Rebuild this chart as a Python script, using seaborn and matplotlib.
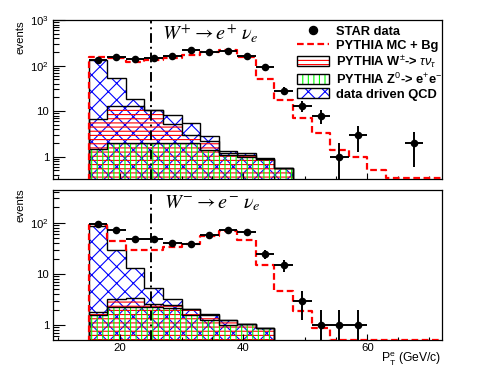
import numpy as np
import matplotlib
matplotlib.use("Agg")
import matplotlib.pyplot as plt
from matplotlib.lines import Line2D
from matplotlib.patches import Patch
from matplotlib.legend_handler import HandlerTuple
from matplotlib.ticker import FixedLocator, FuncFormatter, LogLocator, NullFormatter, MultipleLocator
import seaborn as sns

# ── 1. DATA ─────────────────────────────────────────────────
bin_edges = [15, 18, 21, 24, 27, 30, 33, 36, 39, 42, 45, 48, 51, 54, 57, 60, 63, 66, 69, 72]
pt_cut = 25

# W+ panel
wp_data = [134, 154, 139, 147, 166, 222, 200, 214, 160, 95, 28, 13, 8, 1, 3, 0, 0, 2]
wp_mc = [158, 146, 120, 136, 148, 175, 199, 223, 158, 50.6, 17.3, 7.1, 3.4, 1.41, 0.97, 0.51, 0.34, 0.34, 0.34]
wp_zee = [1.5, 2.0, 2.0, 2.0, 2.0, 2.0, 1.4, 1.1, 1.0, 0.9, 0.58]
wp_tau = [5.3, 11.0, 11.0, 8.5, 3.2, 1.0, 0.8, 0.1, 0.1, 0.01, 0.0]
wp_qcd = [128, 40, 6.0, 0.2, 3.1, 2.5, 0.6, 0.16, 0.09, 0.01, 0.0]

# W- panel
wm_data = [93, 72, 48, 48, 40, 38, 57, 72, 67, 25, 15, 3, 1, 1, 1, 0, 0, 0]
wm_mc = [90, 44, 30, 30, 33, 38, 55, 70, 46, 14.9, 4.6, 1.9, 0.89, 0.52, 0.52, 0.52, 0.52, 0.52, 0.52]
wm_zee = [1.6, 2.3, 2.3, 2.3, 2.2, 1.6, 1.25, 1.0, 1.05, 0.86]
wm_tau = [0.2, 1.0, 1.1, 0.27, 0.26, 0.5, 0.35, 0.25, 0.0, 0.0]
wm_qcd = [86.2, 26.7, 9.4, 2.63, 0.74, 0.0, 0.04, 0.02, 0.0, 0.0]

legend_labels = [
    "STAR data",
    "PYTHIA MC + Bg",
    r"PYTHIA W$^{\pm}$-> $\tau\nu_{\tau}$",
    r"PYTHIA Z$^{0}$-> e$^{+}$e$^{-}$",
    "data driven QCD",
]

# ── 2. STYLE ─────────────────────────────────────────────────
plt.rcParams['font.family'] = ['Liberation Sans', 'DejaVu Sans']
plt.rcParams['mathtext.fontset'] = 'custom'
plt.rcParams['mathtext.rm'] = 'Liberation Sans'
plt.rcParams['mathtext.it'] = 'Liberation Sans:italic'
plt.rcParams['mathtext.bf'] = 'Liberation Sans:bold'
plt.rcParams['hatch.linewidth'] = 0.8

GREEN, RED, BLUE = "#00ff00", "#ff0000", "#0000ff"
HATCH_QCD, HATCH_TAU, HATCH_ZEE = 'xx', '----', '|||'
FLOOR = 1e-3
MC_DASH = (0, (3, 1.6))

fig = plt.figure(figsize=(4.96, 3.72), dpi=100)
ax_top = fig.add_axes([0.1062, 0.518, 0.7843, 0.428])
ax_bot = fig.add_axes([0.1062, 0.086, 0.7843, 0.403])

edges = np.array(bin_edges, dtype=float)
centers = 0.5 * (edges[:-1] + edges[1:])
half_w = 0.5 * (edges[1] - edges[0])

ylabels = {1: "1", 10: "10", 100: r"$10^{2}$", 1000: r"$10^{3}$"}


def draw_panel(ax, data, mc, zee, tau, qcd, ylim, majors):
    ax.set_yscale('log')
    nb = len(zee)
    e = edges[:nb + 1]
    lvl_z = np.array(zee)
    lvl_tz = lvl_z + np.array(tau)
    lvl_all = lvl_tz + np.array(qcd)

    # hatched stacked background (each level drawn from zero, ROOT style)
    for lvl, col, h in [(lvl_all, BLUE, HATCH_QCD), (lvl_tz, RED, HATCH_TAU), (lvl_z, GREEN, HATCH_ZEE)]:
        ax.stairs(lvl, e, baseline=FLOOR, fill=True, facecolor='none',
                  edgecolor=col, hatch=h, linewidth=0, zorder=1)
    for lvl in (lvl_all, lvl_tz, lvl_z):
        ax.stairs(lvl, e, baseline=FLOOR, fill=False, color='k', linewidth=1.0, zorder=1.5)

    # MC + background, dashed step line
    mc_x = np.concatenate([[edges[0]], edges])
    mc_y = np.concatenate([[FLOOR], mc, [mc[-1]]])
    sns.lineplot(x=mc_x, y=mc_y, estimator=None, sort=False, drawstyle='steps-post',
                 color=RED, linewidth=1.6, linestyle=MC_DASH, ax=ax, zorder=3)

    ax.axvline(pt_cut, color='k', linewidth=1.4, linestyle=(0, (5, 2, 1, 2)), zorder=2.8)

    # data points with Poisson errors
    d = np.array(data, dtype=float)
    c = centers[:len(d)]
    m = d > 0
    err = np.sqrt(d[m])
    ax.errorbar(c[m], d[m], xerr=half_w, yerr=[np.minimum(err, d[m] * 0.999), err],
                fmt='none', ecolor='k', elinewidth=1.4, capsize=0, zorder=4)
    sns.scatterplot(x=c[m], y=d[m], color='k', s=30, linewidth=0, ax=ax,
                    zorder=5, legend=False)

    ax.set_xlim(9.2, 72)
    ax.set_ylim(*ylim)
    ax.xaxis.set_major_locator(FixedLocator([20, 40, 60]))
    ax.xaxis.set_minor_locator(MultipleLocator(5))
    ax.yaxis.set_major_locator(FixedLocator(majors))
    ax.yaxis.set_major_formatter(FuncFormatter(lambda v, p: ylabels.get(int(round(v)), "")))
    ax.yaxis.set_minor_locator(LogLocator(base=10, subs=np.arange(2, 10)))
    ax.yaxis.set_minor_formatter(NullFormatter())
    ax.tick_params(which='both', direction='in', top=False, right=False,
                   labelsize=8.2, width=0.8, pad=2.5, color='k')
    ax.tick_params(axis='y', which='major', length=8.5)
    ax.tick_params(axis='y', which='minor', length=4.2)
    ax.tick_params(axis='x', which='major', length=4)
    ax.tick_params(axis='x', which='minor', length=2.2)
    ax.set_xlabel("")
    ax.set_ylabel("")
    for s in ax.spines.values():
        s.set_linewidth(0.9)
        s.set_color('k')


draw_panel(ax_top, wp_data, wp_mc, wp_zee, wp_tau, wp_qcd, (0.32, 1000), [1, 10, 100, 1000])
draw_panel(ax_bot, wm_data, wm_mc, wm_zee, wm_tau, wm_qcd, (0.51, 436), [1, 10, 100])
ax_top.tick_params(axis='x', labelbottom=False)

# ── 3. TEXT ──────────────────────────────────────────────────
fig.text(162 / 496, 1 - 40 / 372, r"$W^{+} \rightarrow e^{+}\ \nu_{e}$", fontsize=14.5,
         math_fontfamily='stix', ha='left', va='baseline')
fig.text(164 / 496, 1 - 208 / 372, r"$W^{-} \rightarrow e^{-}\ \nu_{e}$", fontsize=14.5,
         math_fontfamily='stix', ha='left', va='baseline')
fig.text(20 / 496, 1 - 20 / 372, "events", rotation=90, ha='center', va='top', fontsize=8.2)
fig.text(20 / 496, 1 - 188 / 372, "events", rotation=90, ha='center', va='top', fontsize=8.2)
fig.text(441.7 / 496, 1 - 363 / 372, r"P$_{\rm T}^{\rm e}$ (GeV/c)", ha='right',
         va='baseline', fontsize=8.7)

# ── 4. LEGEND ────────────────────────────────────────────────
def box(col, h):
    return (Patch(facecolor='white', edgecolor=col, hatch=h, linewidth=0),
            Patch(facecolor='none', edgecolor='k', linewidth=1.0))


handles = [
    Line2D([], [], marker='o', color='k', linestyle='none', markersize=5.8),
    Line2D([], [], color=RED, linewidth=1.6, linestyle=MC_DASH),
    box(RED, HATCH_TAU),
    box(GREEN, HATCH_ZEE),
    box(BLUE, HATCH_QCD),
]
ax_top.legend(handles, legend_labels, loc='upper left',
              bbox_to_anchor=(297 / 496, 1 - 25 / 372), bbox_transform=fig.transFigure,
              frameon=False, borderpad=0, borderaxespad=0, handlelength=2.48,
              handleheight=0.83, handletextpad=0.54, labelspacing=0.12,
              prop={'weight': 'bold', 'size': 9.3},
              handler_map={tuple: HandlerTuple(ndivide=1, pad=0)})

fig.savefig("out.png", dpi=100)
